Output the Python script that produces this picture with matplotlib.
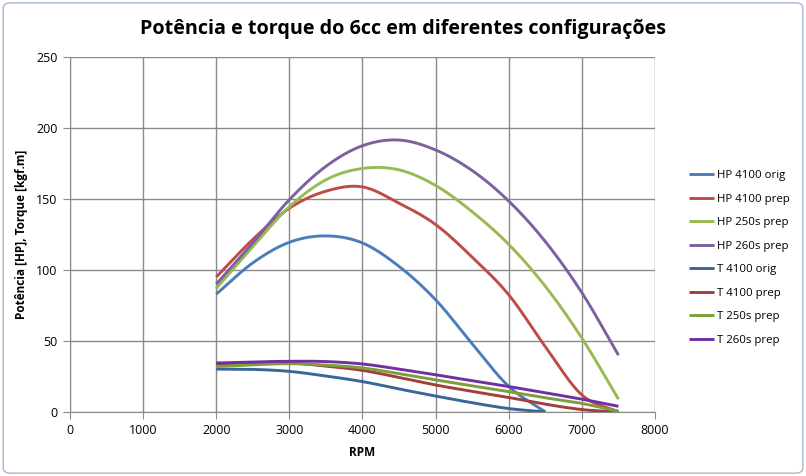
import numpy as np
import matplotlib.pyplot as plt
from matplotlib.patches import FancyBboxPatch

rpm = [2000, 2500, 3000, 3500, 4000, 4500, 5000, 5500, 6000, 6500, 7000, 7500]
rpm_orig = rpm[:10]

hp_4100_orig = [83, 105, 119.5, 124, 119, 102.5, 79, 48, 18, 0]
hp_4100_prep = [95, 121.5, 143.5, 155.5, 158.5, 147, 132, 109, 82.5, 46, 12, 0]
hp_250s_prep = [87, 116.5, 144.5, 163.5, 171.5, 170.5, 159.5, 141, 118, 88.5, 52, 9]
hp_260s_prep = [90, 119, 149.5, 173, 187.5, 191.5, 184.5, 170, 148.5, 120, 84, 40]

t_4100_orig = [30.2, 30, 28.6, 25.3, 21.4, 16.2, 11.2, 6.5, 2.4, 0]
t_4100_prep = [34, 34.3, 34.5, 32.3, 29.3, 24.3, 19, 14.5, 10.2, 5.5, 1.7, 0]
t_250s_prep = [32, 33.2, 34, 33, 31, 27, 22.6, 18.4, 14.3, 10, 6, 0.5]
t_260s_prep = [34.5, 35.2, 35.7, 35.5, 33.8, 30.2, 26.2, 22, 17.9, 13.5, 9, 4]

labels = ["HP 4100 orig", "HP 4100 prep", "HP 250s prep", "HP 260s prep",
          "T 4100 orig", "T 4100 prep", "T 250s prep", "T 260s prep"]
colors = ["#4A7EBB", "#BE4B48", "#98B954", "#7D60A0",
          "#3A6799", "#A23E3B", "#7E9E3E", "#7030A0"]


def smooth(x, y, n=20):
    # Catmull-Rom path through the points, like Excel's smoothed line
    x = np.asarray(x, float)
    y = np.asarray(y, float)
    px = np.concatenate([[2 * x[0] - x[1]], x, [2 * x[-1] - x[-2]]])
    py = np.concatenate([[2 * y[0] - y[1]], y, [2 * y[-1] - y[-2]]])
    t = np.linspace(0, 1, n, endpoint=False)
    xs, ys = [], []
    for i in range(1, len(px) - 2):
        for p, out in ((px, xs), (py, ys)):
            p0, p1, p2, p3 = p[i - 1], p[i], p[i + 1], p[i + 2]
            out.extend(0.5 * (2 * p1 + (-p0 + p2) * t
                              + (2 * p0 - 5 * p1 + 4 * p2 - p3) * t ** 2
                              + (-p0 + 3 * p1 - 3 * p2 + p3) * t ** 3))
    xs.append(x[-1])
    ys.append(y[-1])
    return np.array(xs), np.array(ys)


series = [(rpm_orig, hp_4100_orig), (rpm, hp_4100_prep), (rpm, hp_250s_prep), (rpm, hp_260s_prep),
          (rpm_orig, t_4100_orig), (rpm, t_4100_prep), (rpm, t_250s_prep), (rpm, t_260s_prep)]

plt.rcParams['font.family'] = ['Open Sans', 'DejaVu Sans']

fig = plt.figure(figsize=(8.06, 4.76), dpi=100)
fig.patches.append(FancyBboxPatch((0.004, 0.006), 0.992, 0.988, boxstyle="round,pad=0,rounding_size=0.01",
                                  transform=fig.transFigure, fill=False, edgecolor="#A6B8CC", linewidth=1))
ax = fig.add_axes([0.0868, 0.1345, 0.7259, 0.7458])

for (x, y), lab, c in zip(series, labels, colors):
    sx, sy = smooth(x, y)
    ax.plot(sx, sy, color=c, linewidth=2.1, label=lab, solid_capstyle='butt')

ax.set_xlim(0, 8000)
ax.set_ylim(0, 250)
ax.set_xticks(range(0, 8001, 1000))
ax.set_yticks(range(0, 251, 50))
ax.grid(True, color="#8A8A8A", linewidth=1)
ax.set_axisbelow(True)
for s in ["top", "right"]:
    ax.spines[s].set_visible(False)
for s in ["left", "bottom"]:
    ax.spines[s].set_color("#8A8A8A")
ax.tick_params(direction='out', length=5, color="#8A8A8A", labelsize=9, pad=4)

ax.set_xlabel("RPM", fontsize=8.5, fontweight='bold', labelpad=6)
ax.set_ylabel("Potência [HP], Torque [kgf.m]", fontsize=8.5, fontweight='bold', labelpad=6)
fig.text(0.5, 0.94, "Potência e torque do 6cc em diferentes configurações",
         ha='center', va='center', fontsize=14.2, fontweight='bold')

fig.legend(loc='center left', bbox_to_anchor=(0.842, 0.458), frameon=False, fontsize=8.2,
           labelspacing=1.1, handlelength=2.2, handletextpad=0.25)

fig.savefig("out.png", dpi=100)
